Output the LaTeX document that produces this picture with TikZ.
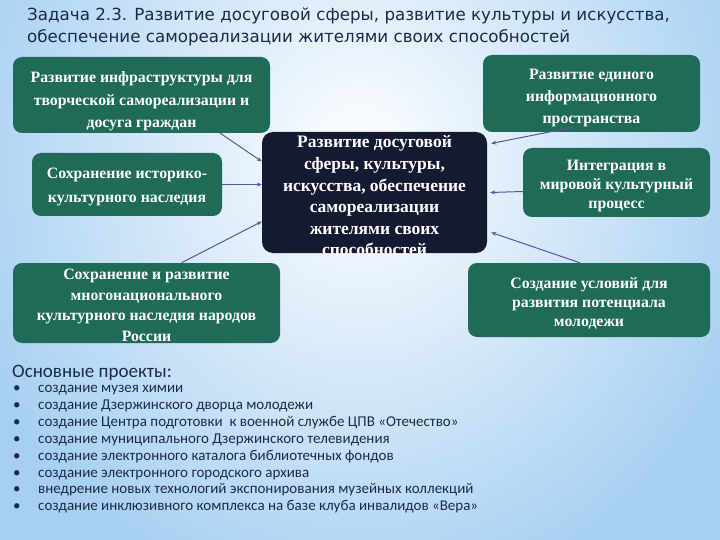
\documentclass[tikz,border=0pt]{standalone}
\usepackage{fontspec}
\setmainfont{Liberation Serif}
\newfontfamily\titlefont{DejaVu Sans}
\newfontfamily\listfont{Carlito}
\usetikzlibrary{arrows.meta}
\definecolor{boxgreen}{HTML}{1F6B57}
\definecolor{boxnavy}{HTML}{141A32}
\definecolor{linkblue}{HTML}{5656A0}
\definecolor{titleblue}{HTML}{1B2A48}
\definecolor{bgblue}{HTML}{A6CFF2}

\begin{document}
\begin{tikzpicture}[x=1pt,y=-1pt,
		greenbox/.style={rectangle, rounded corners=9pt, fill=boxgreen, inner sep=0pt},
		boxtext/.style={text=white, align=center, inner sep=0pt,
			font=\bfseries\fontsize{15.8}{22}\selectfont},
		centerbox/.style={rectangle, rounded corners=11pt, fill=boxnavy, inner sep=0pt,
			minimum width=225pt, minimum height=121pt},
		link/.style={draw=linkblue, line width=1pt, -{Stealth[length=5pt,width=4pt]}},
		item/.style={anchor=base west, inner sep=0pt, text=titleblue,
			font=\listfont\fontsize{15}{17}\selectfont}]

	\useasboundingbox (0,0) rectangle (720,540);
	\begin{scope}
		\clip (0,0) rectangle (720,540);
		\shade[inner color=white, outer color=bgblue] (-60,-300) rectangle (780,620);
	\end{scope}

	% title
	\node[anchor=base west, inner sep=0pt, text=titleblue,
		font=\titlefont\fontsize{16.7}{22}\selectfont] (title1) at (27,21)
		{Задача 2.3. Развитие досуговой сферы, развитие культуры и искусства,};
	\node[anchor=base west, inner sep=0pt, text=titleblue,
		font=\titlefont\fontsize{16.7}{22}\selectfont] (title2) at (27,43)
		{обеспечение самореализации жителями своих способностей};

	% centre
	\node[centerbox] (ctr) at (374.5,192.5) {};
	\node[boxtext, font=\bfseries\fontsize{17.5}{21.6}\selectfont] (ctrtext)
		at ([yshift=-3.5pt]ctr.center)
		{Развитие досуговой\\сферы, культуры,\\искусства, обеспечение\\самореализации\\жителями своих\\способностей};

	% left boxes
	\node[greenbox, minimum width=257pt, minimum height=76pt] (infra) at (141.5,95) {};
	\node[boxtext, font=\bfseries\fontsize{15.8}{22.5}\selectfont] (infratext)
		at ([yshift=-6.5pt]infra.center)
		{Развитие инфраструктуры для\\творческой самореализации и\\досуга граждан};
	\node[greenbox, minimum width=190pt, minimum height=63pt] (herit) at (127,184.5) {};
	\node[boxtext, font=\bfseries\fontsize{15.8}{23.5}\selectfont] (herittext)
		at ([yshift=-2.5pt]herit.center)
		{Сохранение историко-\\культурного наследия};
	\node[greenbox, minimum width=267pt, minimum height=80pt] (multi) at (146.5,303) {};
	\node[boxtext, font=\bfseries\fontsize{15.8}{20.5}\selectfont] (multitext)
		at ([yshift=-2.5pt]multi.center)
		{Сохранение и развитие\\многонационального\\культурного наследия народов\\России};

	% right boxes
	\node[greenbox, minimum width=217pt, minimum height=77pt] (info) at (591.5,93.5) {};
	\node[boxtext] (infotext) at ([yshift=-5pt]info.center)
		{Развитие единого\\информационного\\пространства};
	\node[greenbox, minimum width=187pt, minimum height=69pt] (integr) at (616.5,182.5) {};
	\node[boxtext, font=\bfseries\fontsize{15.8}{19}\selectfont] (integrtext)
		at ([yshift=-3.5pt]integr.center)
		{Интеграция в\\мировой культурный\\процесс};
	\node[greenbox, minimum width=242pt, minimum height=74pt] (youth) at (589,300) {};
	\node[boxtext, font=\bfseries\fontsize{15.8}{19}\selectfont] (youthtext)
		at ([yshift=-3pt]youth.center)
		{Создание условий для\\развития потенциала\\молодежи};

	% links
	\draw[link] ([xshift=-50pt]infra.south east) -- ([yshift=31pt]ctr.west);
	\draw[link] (herit.east) -- ([yshift=8pt]ctr.west);
	\draw[link] ([xshift=35pt]multi.north) -- ([yshift=-29pt]ctr.west);
	\draw[link] ([xshift=-18pt,yshift=5pt]info.south) -- ([xshift=4pt,yshift=49pt]ctr.east);
	\draw[link] ([yshift=-9pt]integr.west) -- ([xshift=3pt]ctr.east);
	\draw[link] ([xshift=-9pt]youth.north) -- ([xshift=4pt,yshift=-40pt]ctr.east);

	% projects
	\node[anchor=base west, inner sep=0pt, text=titleblue,
		font=\listfont\fontsize{19}{22}\selectfont] (projects) at (12,377)
		{Основные проекты:};
	\foreach \txt [count=\i] in {создание музея химии,
			создание Дзержинского дворца молодежи,
			создание Центра подготовки\ \ к военной службе ЦПВ «Отечество»,
			создание муниципального Дзержинского телевидения,
			создание электронного каталога библиотечных фондов,
			создание электронного городского архива,
			внедрение новых технологий экспонирования музейных коллекций,
			создание инклюзивного комплекса на базе клуба инвалидов «Вера»} {
		\node[item] (bullet\i) at (13,392.5+16.9*\i-16.9) {•};
		\node[item] (item\i) at (38,392.5+16.9*\i-16.9) {\txt};
	}
\end{tikzpicture}
\end{document}
